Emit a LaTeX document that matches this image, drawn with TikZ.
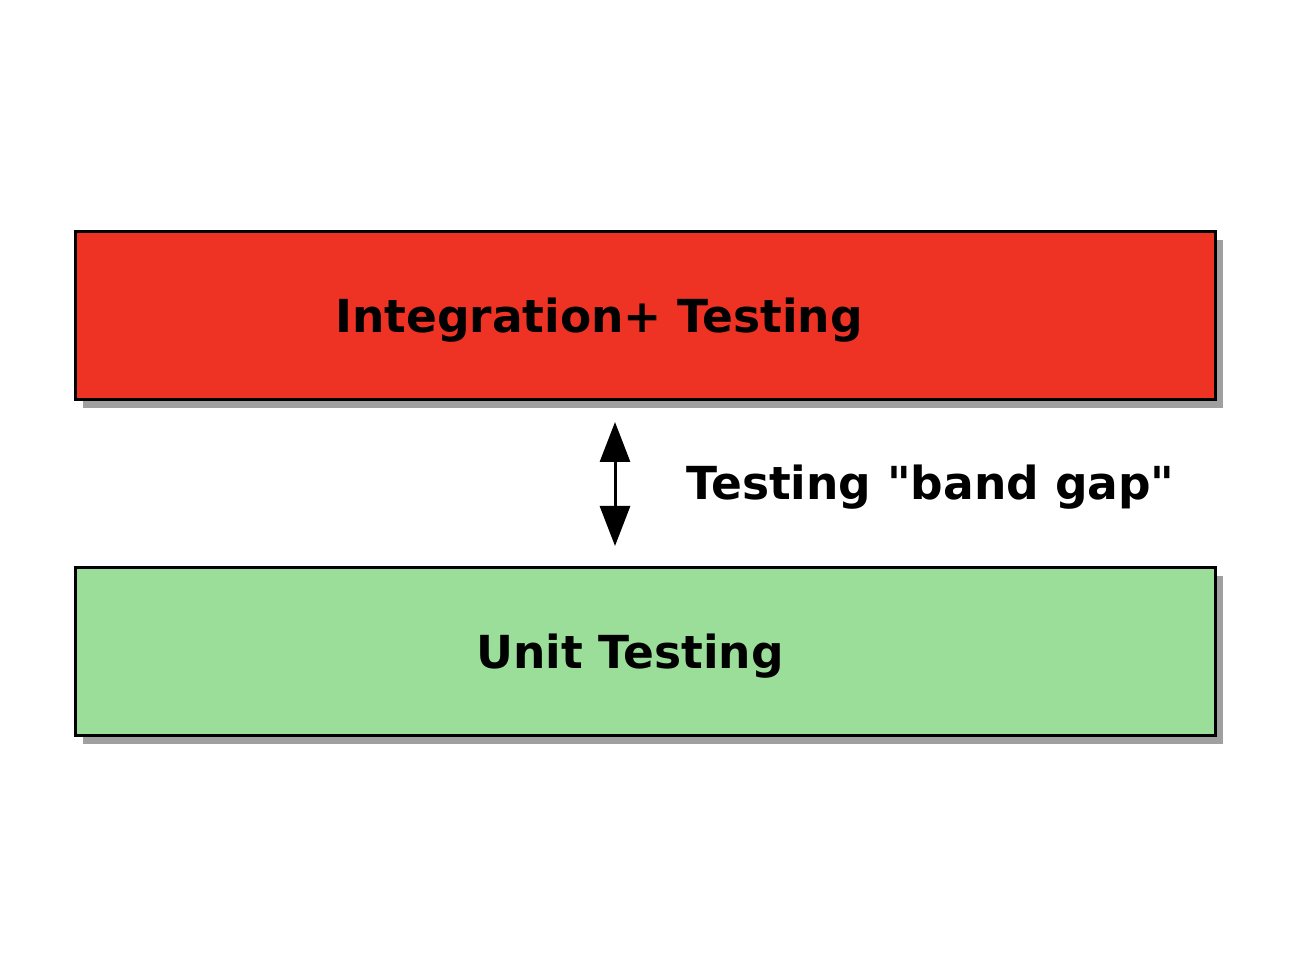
\documentclass[tikz,border=0pt]{standalone}
\usepackage{fontspec}
\newfontfamily\dvfont{DejaVu Sans}
\usetikzlibrary{arrows.meta}
\definecolor{redfill}{RGB}{238,51,36}
\definecolor{greenfill}{RGB}{155,222,154}
\definecolor{shadowgray}{RGB}{160,160,160}
\tikzset{
  layer/.style={draw=black, line width=3pt, minimum width=1140pt, minimum height=168pt, inner sep=0pt},
  shadowbox/.style={fill=shadowgray, draw=none, minimum width=1140pt, minimum height=168pt, inner sep=0pt},
  lbl/.style={font=\dvfont\fontsize{45.5}{54}\selectfont\bfseries, inner sep=0pt},
  gap/.style={line width=3pt, {Triangle[length=40pt,width=30pt]}-{Triangle[length=40pt,width=30pt]}}
}
\begin{document}
\begin{tikzpicture}[x=1pt,y=1pt]
\useasboundingbox (0,0) rectangle (1290,968);
\fill[white] (0,0) rectangle (1290,968);
% shadows
\node[shadowbox] at (653,644) {};
\node[shadowbox] at (653,308) {};
% boxes
\node[layer, fill=redfill] (integ) at (645,652) {};
\node[layer, fill=greenfill] (unit) at (645,316) {};
\node[lbl, anchor=base] (itext) at (599,635) {Integration+ Testing};
\node[lbl, anchor=base] (utext) at (630,299) {Unit Testing};
\coordinate (atop) at (615,546);
\coordinate (abot) at (615,422);
\draw[gap] (atop) -- (abot);
\node[lbl, anchor=base west] (gaptext) at (686,468) {Testing "band gap"};
\end{tikzpicture}
\end{document}
